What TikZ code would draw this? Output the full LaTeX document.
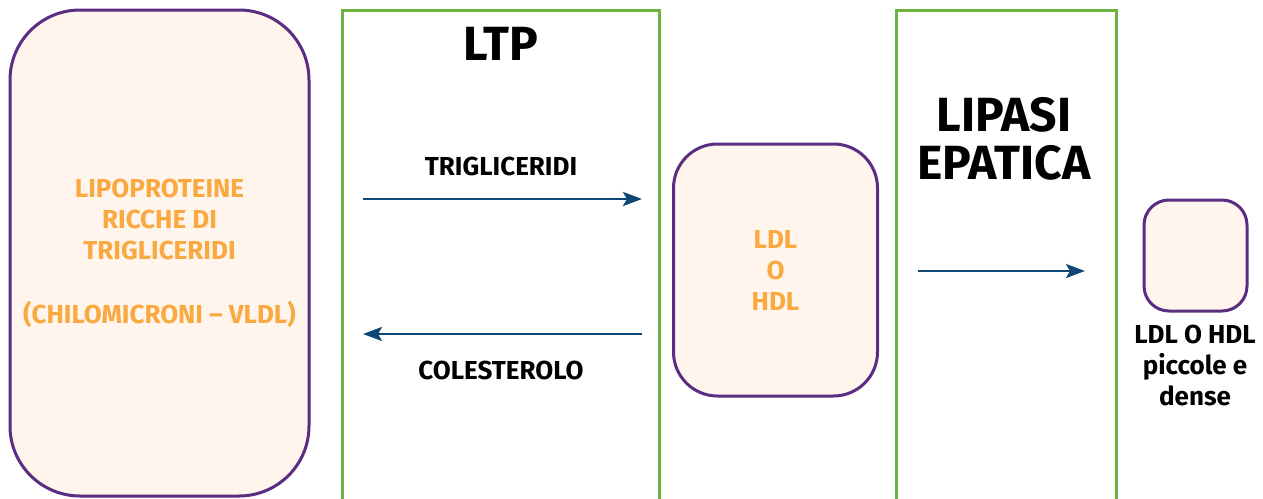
\documentclass[tikz,border=0pt]{standalone}
\usepackage{fontspec}
\setmainfont{Fira Sans}
\usetikzlibrary{arrows.meta}

\definecolor{lipoorange}{HTML}{F9A93F}
\definecolor{lipofill}{HTML}{FFF5EC}
\definecolor{lipopurple}{HTML}{5A2D82}
\definecolor{enzgreen}{HTML}{6DB33F}
\definecolor{flowblue}{HTML}{0E4677}

\tikzset{
  lipo/.style={draw=lipopurple, fill=lipofill, line width=3pt, rounded corners=#1,
    inner sep=0pt, text=lipoorange, align=center,
    font=\bfseries\fontsize{26}{31}\selectfont},
  enzyme/.style={draw=enzgreen, line width=3pt},
  flow/.style={draw=flowblue, line width=2.6pt, -{Stealth[length=19pt,width=14pt,inset=4pt]}},
  lbl/.style={font=\bfseries\fontsize{26}{31}\selectfont, align=center},
  title/.style={font=\bfseries\fontsize{48}{48}\selectfont, align=center},
}

\begin{document}
\begin{tikzpicture}[x=1pt,y=-1pt]
\useasboundingbox (0,0) rectangle (1263,498);

% lipoproteine di partenza
\node[lipo=70pt, minimum width=299pt, minimum height=486pt] (ricche) at (159.5,253)
  {LIPOPROTEINE\\RICCHE DI\\TRIGLICERIDI\\[33pt](CHILOMICRONI -- VLDL)};

% LTP
\draw[enzyme] (342,10) rectangle (659,520);
\node[title] (ltp) at (501,44) {LTP};
\coordinate (tgA) at (363,199);
\coordinate (tgB) at (642,199);
\coordinate (colA) at (642,334);
\coordinate (colB) at (363,334);
\draw[flow] (tgA) -- (tgB);
\draw[flow] (colA) -- (colB);
\node[lbl] (tg) at (501,166) {TRIGLICERIDI};
\node[lbl] (col) at (501,370) {COLESTEROLO};

% LDL o HDL
\node[lipo=44pt, minimum width=204pt, minimum height=252pt] (ldlhdl) at (775.5,270)
  {LDL\\O\\HDL};

% lipasi epatica
\draw[enzyme] (896,10) rectangle (1116,520);
\node[title] (lipasi) at (1004,139) {LIPASI\\EPATICA};
\coordinate (lipA) at (918,271);
\coordinate (lipB) at (1085,271);
\draw[flow] (lipA) -- (lipB);

% piccole e dense
\node[lipo=25pt, minimum width=103pt, minimum height=111pt] (dense) at (1195.5,255.5) {};
\node[lbl] (densetxt) at (1195,365) {LDL O HDL\\piccole e\\dense};
\end{tikzpicture}
\end{document}
